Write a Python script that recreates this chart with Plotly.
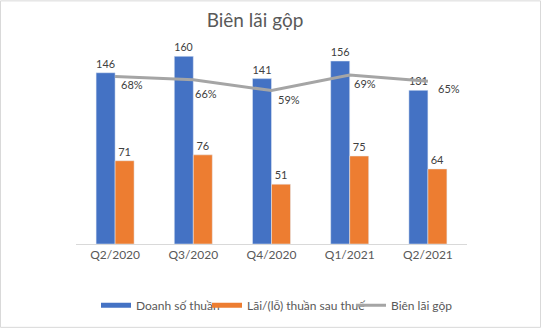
import plotly.graph_objects as go

categories = ["Q2/2020", "Q3/2020", "Q4/2020", "Q1/2021", "Q2/2021"]
doanh_so = [146, 160, 141, 156, 131]
lai_lo = [71, 76, 51, 75, 64]
bien_lai = [0.68, 0.66, 0.59, 0.69, 0.65]
# label offsets (pixels) for the margin labels, styling only
label_dx = [4, 0, 4, 2, 8]
label_dy = [-8, -14, -9, -8, -7]

W, H = 541, 332
ml, mr, mt, mb = 76, 74, 27, 85
FONT = "Lato, 'Noto Sans', sans-serif"
BLUE, ORANGE, GRAY = "#4472C4", "#ED7D31", "#A5A5A5"

pw = W - ml - mr
ph = H - mt - mb

fig = go.Figure()
fig.add_trace(go.Bar(
    x=categories, y=doanh_so, name="Doanh số thuần", showlegend=False,
    marker_color=BLUE, text=doanh_so, textposition="outside",
    textfont=dict(size=11, color="#404040"), cliponaxis=False,
))
fig.add_trace(go.Bar(
    x=categories, y=lai_lo, name="Lãi/(lỗ) thuần sau thuế", showlegend=False,
    marker_color=ORANGE, text=lai_lo, textposition="outside",
    textfont=dict(size=11, color="#404040"), cliponaxis=False,
))
fig.add_trace(go.Scatter(
    x=categories, y=bien_lai, name="Biên lãi gộp", yaxis="y2", showlegend=False,
    mode="lines", line=dict(color=GRAY, width=3), cliponaxis=False,
))

# legend entries
for name, color, lw, leg in [("Doanh số thuần", BLUE, 5, "legend"),
                             ("Lãi/(lỗ) thuần sau thuế", ORANGE, 5, "legend2"),
                             ("Biên lãi gộp", GRAY, 3, "legend3")]:
    fig.add_trace(go.Scatter(x=[None], y=[None], mode="lines", name=name,
                             line=dict(color=color, width=lw), legend=leg,
                             showlegend=True))

annotations = []
for c, v, dx, dy in zip(categories, bien_lai, label_dx, label_dy):
    annotations.append(dict(x=c, y=v, xref="x", yref="y2", text=f"{v:.0%}",
                            showarrow=False, xanchor="left", yanchor="middle",
                            xshift=dx, yshift=dy,
                            font=dict(size=11, color="#404040", family=FONT)))

def leg(px):
    return dict(orientation="h", x=(px - ml) / pw, xanchor="left",
                y=(H - mb - 309) / ph, yanchor="middle",
                font=dict(size=12, color="#595959", family=FONT),
                itemwidth=30, bgcolor="rgba(0,0,0,0)")

fig.update_layout(
    width=W, height=H,
    margin=dict(l=ml, r=mr, t=mt, b=mb),
    paper_bgcolor="white", plot_bgcolor="white",
    font=dict(family=FONT, color="#595959"),
    barmode="group", bargap=0.514, bargroupgap=0,
    title=dict(text="Biên lãi gộp", x=255 / W, xref="container", xanchor="center",
               y=1 - 20 / H, yref="container", yanchor="middle",
               font=dict(size=19, color="#595959", family=FONT)),
    xaxis=dict(showline=True, linecolor="#D9D9D9", linewidth=1, showgrid=False,
               ticks="", tickfont=dict(size=12, color="#595959")),
    yaxis=dict(range=[0, 185], visible=False, showgrid=False),
    yaxis2=dict(range=[-0.4, 1.0], overlaying="y", side="right", visible=False,
                showgrid=False),
    showlegend=True,
    legend=leg(96), legend2=leg(207), legend3=leg(351),
    annotations=annotations,
    shapes=[dict(type="rect", xref="paper", yref="paper",
                 x0=-(ml - 0.5) / pw, x1=1 + (mr - 0.5) / pw,
                 y0=-(mb - 0.5) / ph, y1=1 + (mt - 0.5) / ph,
                 line=dict(color="#D9D9D9", width=1), layer="below")],
)

fig.write_html("out.html")
